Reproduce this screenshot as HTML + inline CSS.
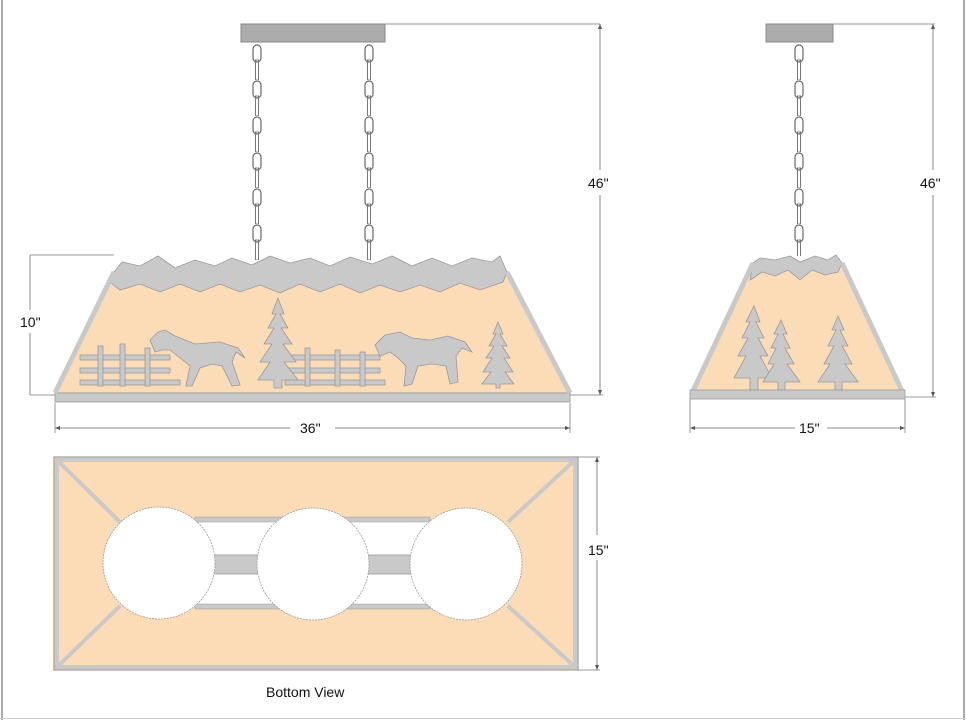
<!DOCTYPE html>
<html><head><meta charset="utf-8"><style>
html,body{margin:0;padding:0;background:#fff}
svg{display:block}
text{font-family:"Liberation Sans",sans-serif;font-size:14px;fill:#111}
</style></head><body>
<svg width="966" height="720" viewBox="0 0 966 720" xmlns="http://www.w3.org/2000/svg">
<defs>
<pattern id="chain" width="12" height="36" patternUnits="userSpaceOnUse" x="-6" y="44">
<rect x="2" y="1" width="8" height="17" rx="4" fill="none" stroke="#666" stroke-width="1.2"/>
<rect x="4.5" y="16" width="3" height="20" fill="none" stroke="#777" stroke-width="1"/>
</pattern>
</defs>
<line x1="2" y1="0" x2="2" y2="720" stroke="#aaa" stroke-width="2"/>
<line x1="964" y1="0" x2="964" y2="720" stroke="#aaa" stroke-width="2"/>
<line x1="0" y1="718.5" x2="966" y2="718.5" stroke="#ccc" stroke-width="1"/>

<rect x="241" y="24" width="144" height="18" fill="#acacac" stroke="#888"/>
<line x1="385" y1="24" x2="600" y2="24" stroke="#999"/>
<g transform="translate(257,0)"><rect x="-6" y="44" width="12" height="216" fill="url(#chain)"/></g>
<g transform="translate(369,0)"><rect x="-6" y="44" width="12" height="216" fill="url(#chain)"/></g>
<polygon points="114,272 507,272 570,393 55,393" fill="#fcdcb6" stroke="#999"/>
<path d="M114,272 L122,262 L140,266 L158,256 L175,268 L195,260 L215,266 L232,258 L252,265 L270,256 L290,263 L310,258 L330,266 L350,257 L372,264 L392,256 L412,266 L432,258 L452,266 L472,258 L492,262 L500,256 L507,272 L503,282 L480,290 L460,283 L440,292 L420,285 L400,292 L380,285 L360,293 L340,284 L320,292 L300,284 L280,293 L260,285 L240,292 L220,284 L200,292 L180,284 L160,292 L140,284 L120,290 L110,282 Z" fill="#c9c9c9" stroke="#999" stroke-width="0.8"/>
<rect x="55" y="393" width="515" height="9" fill="#c9c9c9" stroke="#999" stroke-width="0.8"/>
<line x1="114" y1="272" x2="55" y2="393" stroke="#c9c9c9" stroke-width="5"/>
<line x1="507" y1="272" x2="570" y2="393" stroke="#c9c9c9" stroke-width="5"/>
<g fill="#c9c9c9" stroke="#999" stroke-width="0.8">
<rect x="80" y="355" width="90" height="5"/><rect x="80" y="368" width="90" height="5"/><rect x="80" y="380" width="100" height="5"/>
<rect x="98" y="346" width="5" height="40"/><rect x="120" y="344" width="5" height="42"/><rect x="145" y="348" width="5" height="38"/>
<rect x="285" y="355" width="95" height="5"/><rect x="285" y="368" width="95" height="5"/><rect x="285" y="380" width="100" height="5"/>
<rect x="305" y="348" width="5" height="38"/><rect x="335" y="350" width="5" height="36"/><rect x="360" y="352" width="5" height="34"/>
<path d="M150,340 L158,332 L165,330 L175,336 L195,344 L220,342 L238,348 L245,358 L236,352 L232,362 L240,385 L232,386 L222,366 L212,364 L200,368 L192,386 L186,386 L190,366 L180,358 L170,350 L162,350 L155,352 Z"/>
<polygon points="278,298 284,314 280,314 288,328 281,328 292,344 283,344 296,362 284,362 298,380 282,380 282,388 274,388 274,380 258,380 270,362 260,362 272,344 264,344 274,328 268,328 276,314 272,314"/>
<path d="M375,345 L385,335 L400,332 L412,338 L430,340 L448,336 L465,342 L472,352 L462,348 L456,356 L458,382 L450,384 L446,366 L432,364 L418,366 L412,384 L404,386 L406,366 L398,358 L390,352 L380,356 Z"/>
<polygon points="498,322 503,334 500,334 507,346 502,346 510,358 504,358 513,372 505,372 514,384 500,384 500,388 496,388 496,384 482,384 491,372 483,372 492,358 486,358 494,346 489,346 496,334 493,334"/>
</g>
<line x1="30" y1="255" x2="114" y2="255" stroke="#999"/>
<line x1="30" y1="395" x2="55" y2="395" stroke="#999"/>
<line x1="30" y1="255" x2="30" y2="310" stroke="#888"/><line x1="30" y1="333" x2="30" y2="395" stroke="#888"/>
<text x="20" y="327" font-size="13">10"</text>
<line x1="55" y1="403" x2="55" y2="433" stroke="#999"/><line x1="570" y1="403" x2="570" y2="433" stroke="#999"/>
<line x1="55" y1="428" x2="290" y2="428" stroke="#888"/><line x1="335" y1="428" x2="570" y2="428" stroke="#888"/>
<path d="M55,428 l5,-2 v4 z M570,428 l-5,-2 v4 z" fill="#555"/>
<text x="300" y="433">36"</text>
<line x1="570" y1="395" x2="603" y2="395" stroke="#999"/>
<line x1="600" y1="24" x2="600" y2="170" stroke="#888"/><line x1="600" y1="195" x2="600" y2="395" stroke="#888"/>
<path d="M600,24 l-2,5 h4 z M600,395 l-2,-5 h4 z" fill="#555"/>
<text x="588" y="188">46"</text>

<rect x="766" y="24" width="67" height="18" fill="#acacac" stroke="#888"/>
<line x1="833" y1="24" x2="935" y2="24" stroke="#999"/>
<g transform="translate(799,0)"><rect x="-6" y="44" width="12" height="212" fill="url(#chain)"/></g>
<polygon points="753,263 842,263 903,393 692,393" fill="#fcdcb6" stroke="#999"/>
<path d="M753,263 L760,258 L775,260 L790,256 L800,262 L815,256 L828,260 L836,255 L842,263 L838,272 L825,275 L812,270 L800,280 L788,270 L775,276 L762,272 L750,280 Z" fill="#c9c9c9" stroke="#999" stroke-width="0.8"/>
<line x1="753" y1="263" x2="692" y2="393" stroke="#c9c9c9" stroke-width="5"/>
<line x1="842" y1="263" x2="903" y2="393" stroke="#c9c9c9" stroke-width="5"/>
<rect x="690" y="390" width="215" height="9" fill="#c9c9c9" stroke="#999" stroke-width="0.8"/>
<g fill="#c9c9c9" stroke="#999" stroke-width="0.8">
<polygon points="754,306 760,322 756,322 764,338 758,338 768,356 760,356 772,378 758,378 758,390 750,390 750,378 734,378 746,356 738,356 748,338 742,338 750,322 746,322"/>
<polygon points="781,320 787,334 783,334 790,348 785,348 794,364 787,364 800,382 785,382 785,390 778,390 778,382 763,382 774,364 768,364 776,348 771,348 778,334 774,334"/>
<polygon points="838,316 844,330 840,330 848,346 842,346 852,364 845,364 858,382 842,382 842,390 835,390 835,382 818,382 830,364 824,364 834,346 828,346 836,330 832,330"/>
</g>
<line x1="905" y1="397" x2="936" y2="397" stroke="#999"/>
<line x1="933" y1="24" x2="933" y2="170" stroke="#888"/><line x1="933" y1="195" x2="933" y2="397" stroke="#888"/>
<path d="M933,24 l-2,5 h4 z M933,397 l-2,-5 h4 z" fill="#555"/>
<text x="920" y="188">46"</text>
<line x1="690" y1="399" x2="690" y2="433" stroke="#999"/><line x1="905" y1="399" x2="905" y2="433" stroke="#999"/>
<line x1="690" y1="428" x2="795" y2="428" stroke="#888"/><line x1="827" y1="428" x2="905" y2="428" stroke="#888"/>
<path d="M690,428 l5,-2 v4 z M905,428 l-5,-2 v4 z" fill="#555"/>
<text x="799" y="433">15"</text>

<!-- bottom view -->
<rect x="54" y="457" width="524" height="213" fill="#fcdcb6" stroke="#888"/>
<rect x="57" y="460" width="518" height="207" fill="none" stroke="#c9c9c9" stroke-width="4"/>
<rect x="54" y="457" width="524" height="213" fill="none" stroke="#888"/>
<g stroke="#c9c9c9" stroke-width="4">
<line x1="57" y1="460" x2="120" y2="522"/><line x1="575" y1="460" x2="508" y2="522"/>
<line x1="57" y1="667" x2="120" y2="606"/><line x1="575" y1="667" x2="508" y2="606"/>
</g>
<rect x="195" y="519" width="235" height="90" fill="#fff"/>
<rect x="195" y="517" width="235" height="5" fill="#c9c9c9" stroke="#999" stroke-width="0.5"/>
<rect x="195" y="604" width="235" height="5" fill="#c9c9c9" stroke="#999" stroke-width="0.5"/>
<rect x="205" y="555" width="215" height="19" fill="#c9c9c9" stroke="#999" stroke-width="0.8"/>
<g fill="#fff" stroke="#999" stroke-width="0.8" stroke-dasharray="2,1">
<circle cx="159" cy="563" r="56"/><circle cx="313" cy="564" r="56"/><circle cx="466" cy="564" r="56"/>
</g>
<line x1="578" y1="457" x2="600" y2="457" stroke="#999"/><line x1="578" y1="670" x2="600" y2="670" stroke="#999"/>
<line x1="597" y1="457" x2="597" y2="535" stroke="#888"/><line x1="597" y1="560" x2="597" y2="670" stroke="#888"/>
<path d="M597,457 l-2,5 h4 z M597,670 l-2,-5 h4 z" fill="#555"/>
<text x="588" y="555">15"</text>
<text x="266" y="697">Bottom View</text>
</svg>
</body></html>
